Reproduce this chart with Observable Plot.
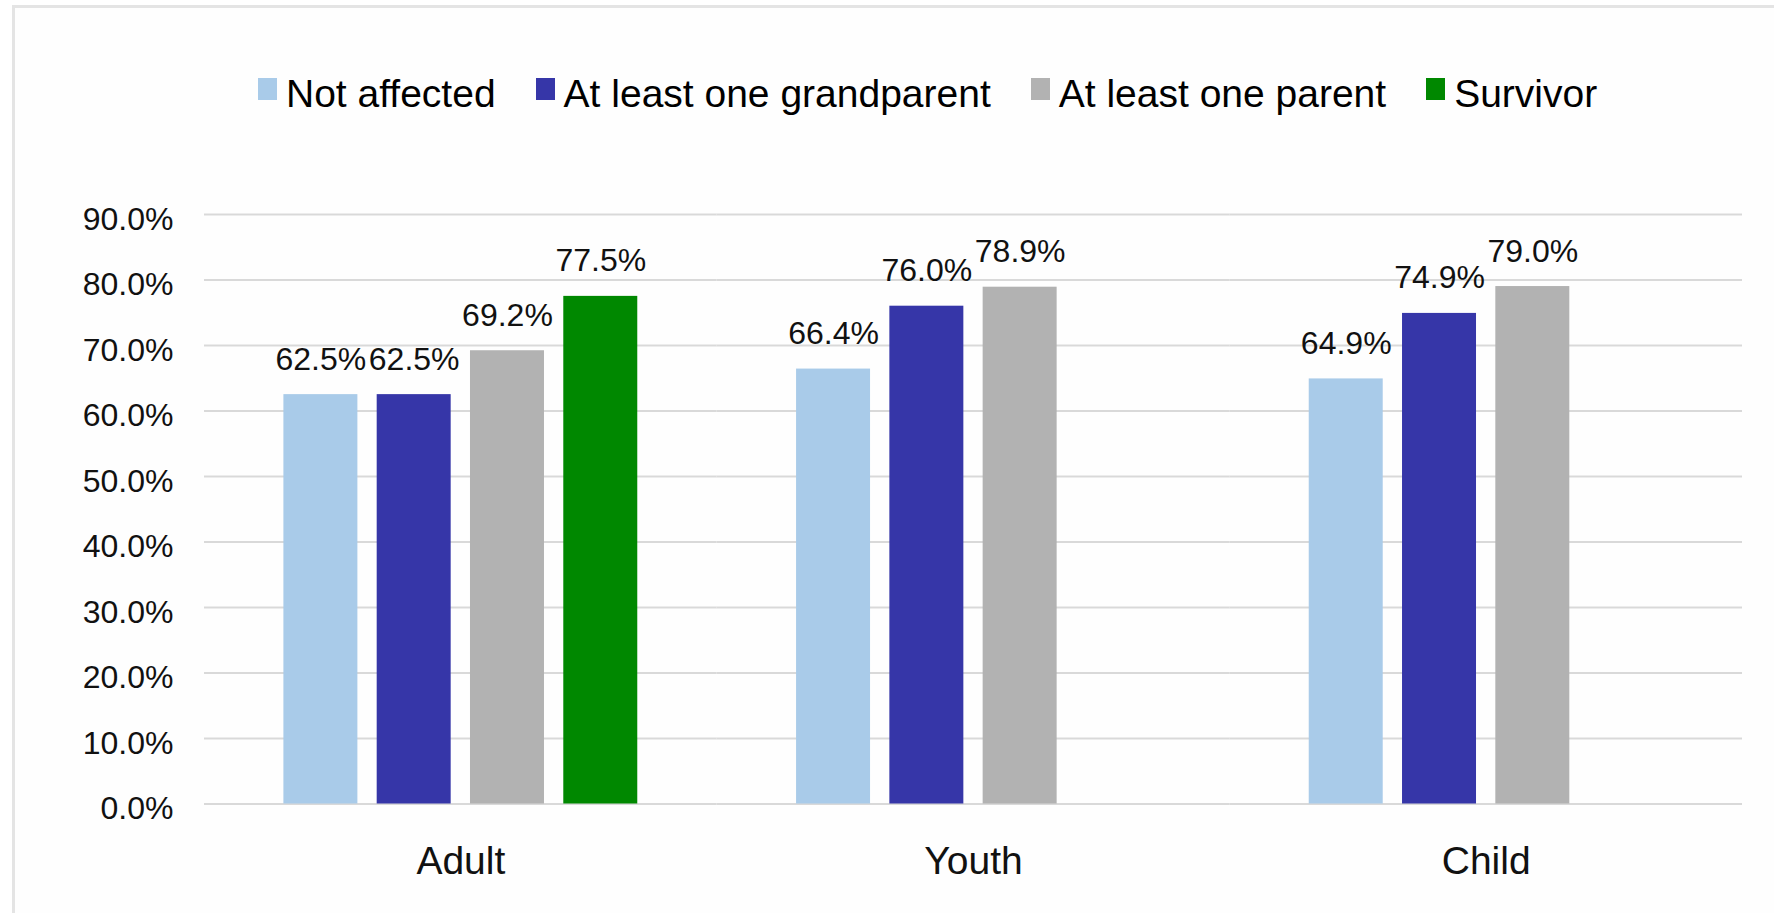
<!DOCTYPE html>
<html>
<head>
<meta charset="utf-8">
<script src="https://cdn.jsdelivr.net/npm/d3@7"></script>
<script src="https://cdn.jsdelivr.net/npm/@observablehq/plot@0.6"></script>
<style>
  html, body { margin: 0; padding: 0; background: #ffffff; overflow: hidden; }
  #frame { position: relative; width: 1774px; height: 913px; font-family: "Liberation Sans", Arial, sans-serif; }
  #border { position: absolute; left: 12px; top: 5px; width: 1780px; height: 930px;
            border-left: 3px solid #e4e4e4; border-top: 3px solid #e4e4e4; background: #fefefe; }
  #legend { position: absolute; left: 258px; top: 74px; display: flex; align-items: flex-start; gap: 40px;
            font-size: 39px; line-height: 39px; color: #000; white-space: nowrap; }
  .item { display: flex; align-items: flex-start; }
  .sw { width: 19px; height: 22px; margin-top: 4px; margin-right: 9px; }
  #chart { position: absolute; left: 0; top: 150px; }
</style>
</head>
<body>
<div id="frame">
  <div id="border"></div>
  <div id="legend"></div>
  <div id="chart"></div>
</div>
<script>
const categories = ["Adult", "Youth", "Child"];
const seriesNames = ["Not affected", "At least one grandparent", "At least one parent", "Survivor"];
const notAffected = [62.5, 66.4, 64.9];
const grandparent = [62.5, 76.0, 74.9];
const parent = [69.2, 78.9, 79.0];
const survivor = [77.5, null, null];
const seriesColors = ["#a9cbe9", "#3636a8", "#b2b2b2", "#008800"];
const yTicks = [0, 10, 20, 30, 40, 50, 60, 70, 80, 90];

const seriesValues = [notAffected, grandparent, parent, survivor];
const rows = [];
categories.forEach((cat, i) => {
  seriesNames.forEach((s, j) => {
    const v = seriesValues[j][i];
    if (v !== null && v !== undefined) rows.push({cat, series: s, value: v});
  });
});

// Legend
const legend = document.getElementById("legend");
seriesNames.forEach((s, j) => {
  const item = document.createElement("div");
  item.className = "item";
  const sw = document.createElement("span");
  sw.className = "sw";
  sw.style.background = seriesColors[j];
  const t = document.createElement("span");
  t.textContent = s;
  item.appendChild(sw);
  item.appendChild(t);
  legend.appendChild(item);
});

const chart = Plot.plot({
  width: 1774,
  height: 763,
  marginTop: 64,
  marginBottom: 109.5,
  marginLeft: 204,
  marginRight: 32,
  style: {fontFamily: "'Liberation Sans', Arial, sans-serif", background: "transparent", color: "#000", overflow: "visible"},
  fx: {domain: categories, padding: 0, label: null, round: false},
  x: {domain: seriesNames, paddingInner: 0.207, paddingOuter: 0.851, axis: null, round: false},
  y: {domain: [0, 90]},
  color: {domain: seriesNames, range: seriesColors},
  marks: [
    Plot.gridY(yTicks, {stroke: "#d9d9d9", strokeOpacity: 1, strokeWidth: 2}),
    Plot.barY(rows, {fx: "cat", x: "series", y: "value", fill: "series"}),
    Plot.text(rows, {
      fx: "cat", x: "series", y: "value",
      text: d => d.value.toFixed(1) + "%",
      lineAnchor: "bottom", dy: -25, fontSize: 32, fill: "#111"
    }),
    Plot.axisY(yTicks, {tickFormat: d => d.toFixed(1) + "%", tickSize: 0, tickPadding: 31, fontSize: 32, dy: 5, label: null, fill: "#111"}),
    Plot.axisFx({anchor: "bottom", tickSize: 0, tickPadding: 42, fontSize: 39, label: null, fill: "#111"})
  ]
});
document.getElementById("chart").appendChild(chart);
</script>
</body>
</html>
